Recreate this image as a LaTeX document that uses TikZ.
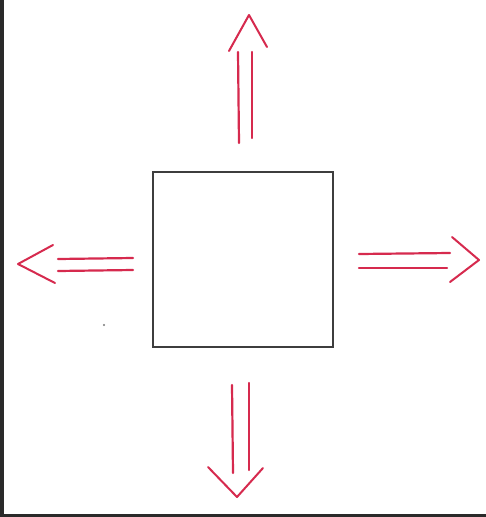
\documentclass[tikz,border=0pt]{standalone}
\usepackage{tikz}
\definecolor{pen}{RGB}{214,42,78}
\definecolor{pencil}{RGB}{62,62,62}
\definecolor{frame}{RGB}{42,42,42}
\tikzset{
  shaft/.style={draw=pen, line width=2.2pt, line cap=round},
  chevron/.style={draw=pen, line width=2pt, line cap=round, line join=round},
  box/.style={draw=pencil, line width=2.6pt, fill=white, minimum width=180pt, minimum height=175pt, inner sep=0pt}
}
\begin{document}
\begin{tikzpicture}[x=1pt,y=-1pt]
\useasboundingbox (0,0) rectangle (486,517);
\fill[white] (0,0) rectangle (486,517);
\fill[frame] (0,0) rectangle (4,517);
\fill[frame] (0,514) rectangle (486,517);
% square
\node[box] (sq) at (243,259.5) {};
% up arrow
\coordinate (ua) at (249,15);
\coordinate (ul) at (229,51);
\coordinate (ur) at (267,47);
\draw[chevron] (ul) -- (ua) -- (ur);
\draw[shaft] (238,52) -- (239,143);
\draw[shaft] (252,52) -- (252,138);
% left arrow
\coordinate (la) at (18,264);
\coordinate (lu) at (53,245);
\coordinate (ld) at (55,283);
\draw[chevron] (lu) -- (la) -- (ld);
\draw[shaft] (58,259) -- (133,258);
\draw[shaft] (58,271) -- (133,270);
% right arrow
\coordinate (ra) at (479,260);
\coordinate (rt) at (452,237);
\coordinate (rb) at (450,282);
\draw[chevron] (rt) -- (ra) -- (rb);
\draw[shaft] (359,254) -- (450,253);
\draw[shaft] (359,268) -- (447,268);
% down arrow
\coordinate (da) at (237,497);
\coordinate (dl) at (208,467);
\coordinate (dr) at (263,468);
\draw[chevron] (dl) -- (da) -- (dr);
\draw[shaft] (232,385) -- (233,473);
\draw[shaft] (249,383) -- (249,470);
% speck
\fill[pencil!70] (104,325) circle (1.2pt);
\end{tikzpicture}
\end{document}
